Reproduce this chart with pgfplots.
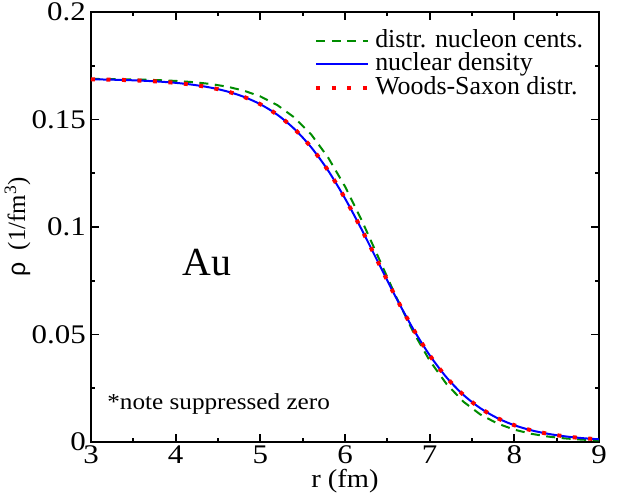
\documentclass[border=0pt]{standalone}
\usepackage{pgfplots}
\pgfplotsset{compat=1.18}
\usepackage{fontspec}
\setmainfont{Liberation Serif}
\newfontfamily\sansgreek{Liberation Sans}
\definecolor{dgreen}{rgb}{0,0.55,0}
\begin{document}
\begin{tikzpicture}
\useasboundingbox (-91bp,-58bp) rectangle (527bp,442bp);
\begin{axis}[
  scale only axis, width=508bp, height=430bp,
  xmin=3, xmax=9, ymin=0, ymax=0.2,
  xtick={3,4,5,6,7,8,9},
  ytick={0,0.05,0.1,0.15,0.2},
  yticklabels={0,0.05,0.1,0.15,0.2},
  minor x tick num=1, minor y tick num=1,
  tick align=inside,
  major tick length=8bp, minor tick length=4bp,
  axis line style={line width=1.8bp},
  every tick/.style={line width=1.8bp, black},
  /pgf/number format/assume math mode=true,
  ticklabel style={font=\fontsize{27}{27}\selectfont, xscale=1.15},
  xticklabel style={yshift=0bp},
  yticklabel style={xshift=-1bp},
  xlabel={r (fm)},
  xlabel style={font=\fontsize{26}{26}\selectfont, xscale=1.1, yshift=1bp},
  ylabel={{\sansgreek ρ}\ \ (1/fm\textsuperscript{3})},
  ylabel style={font=\fontsize{25}{25}\selectfont, yshift=-6bp},
  legend style={draw=none, fill=none, at={(0.985,0.965)}, anchor=north east,
    font=\fontsize{26}{26}\selectfont, row sep=0bp,
    nodes={inner xsep=5bp, inner ysep=0bp, text height=18bp, text depth=5.5bp}},
  legend image code/.code={\draw[#1] (0bp,0bp) -- (52bp,0bp);},
  legend cell align=left,
]
\addplot[dgreen, line width=2bp, dash pattern=on 9bp off 6.5bp] coordinates {
(3.0,0.16887)(3.2,0.16880)(3.4,0.16870)(3.6,0.16855)(3.8,0.16831)(4.0,0.16795)
(4.2,0.16740)(4.4,0.16658)(4.6,0.16534)(4.8,0.16348)(5.0,0.16074)(5.2,0.15672)
(5.4,0.15099)(5.6,0.14310)(5.8,0.13235)(6.0,0.11887)(6.2,0.10288)(6.4,0.08538)
(6.6,0.06783)(6.8,0.05163)(7.0,0.03787)(7.2,0.02693)(7.4,0.01870)(7.6,0.01276)
(7.8,0.00860)(8.0,0.00574)(8.2,0.00381)(8.4,0.00252)(8.6,0.00166)(8.8,0.00109)
(9.0,0.00072)};
\addlegendentry{distr. nucleon cents.}
\addplot[blue, line width=2bp, smooth] coordinates {
(3.0,0.16870)(3.2,0.16856)(3.4,0.16836)(3.6,0.16807)(3.8,0.16765)(4.0,0.16705)
(4.2,0.16618)(4.4,0.16493)(4.6,0.16314)(4.8,0.16062)(5.0,0.15709)(5.2,0.15224)
(5.4,0.14568)(5.6,0.13710)(5.8,0.12629)(6.0,0.11330)(6.2,0.09858)(6.4,0.08292)
(6.6,0.06736)(6.8,0.05294)(7.0,0.04037)(7.2,0.03001)(7.4,0.02186)(7.6,0.01568)
(7.8,0.01111)(8.0,0.00780)(8.2,0.00545)(8.4,0.00379)(8.6,0.00262)(8.8,0.00181)
(9.0,0.00125)};
\addlegendentry{nuclear density}
\addplot[red, line width=4bp, dash pattern=on 4bp off 11.5bp, smooth] coordinates {
(3.0,0.16870)(3.2,0.16856)(3.4,0.16836)(3.6,0.16807)(3.8,0.16765)(4.0,0.16705)
(4.2,0.16618)(4.4,0.16493)(4.6,0.16314)(4.8,0.16062)(5.0,0.15709)(5.2,0.15224)
(5.4,0.14568)(5.6,0.13710)(5.8,0.12629)(6.0,0.11330)(6.2,0.09858)(6.4,0.08292)
(6.6,0.06736)(6.8,0.05294)(7.0,0.04037)(7.2,0.03001)(7.4,0.02186)(7.6,0.01568)
(7.8,0.01111)(8.0,0.00780)(8.2,0.00545)(8.4,0.00379)(8.6,0.00262)(8.8,0.00181)
(9.0,0.00125)};
\addlegendentry{Woods-Saxon distr.}
\node[font=\fontsize{40}{40}\selectfont] at (axis cs:4.37,0.0837) {Au};
\node[font=\fontsize{23}{23}\selectfont, xscale=1.1, anchor=west, inner sep=0pt] at (axis cs:3.19,0.0177) {*note suppressed zero};
\end{axis}
\end{tikzpicture}
\end{document}
